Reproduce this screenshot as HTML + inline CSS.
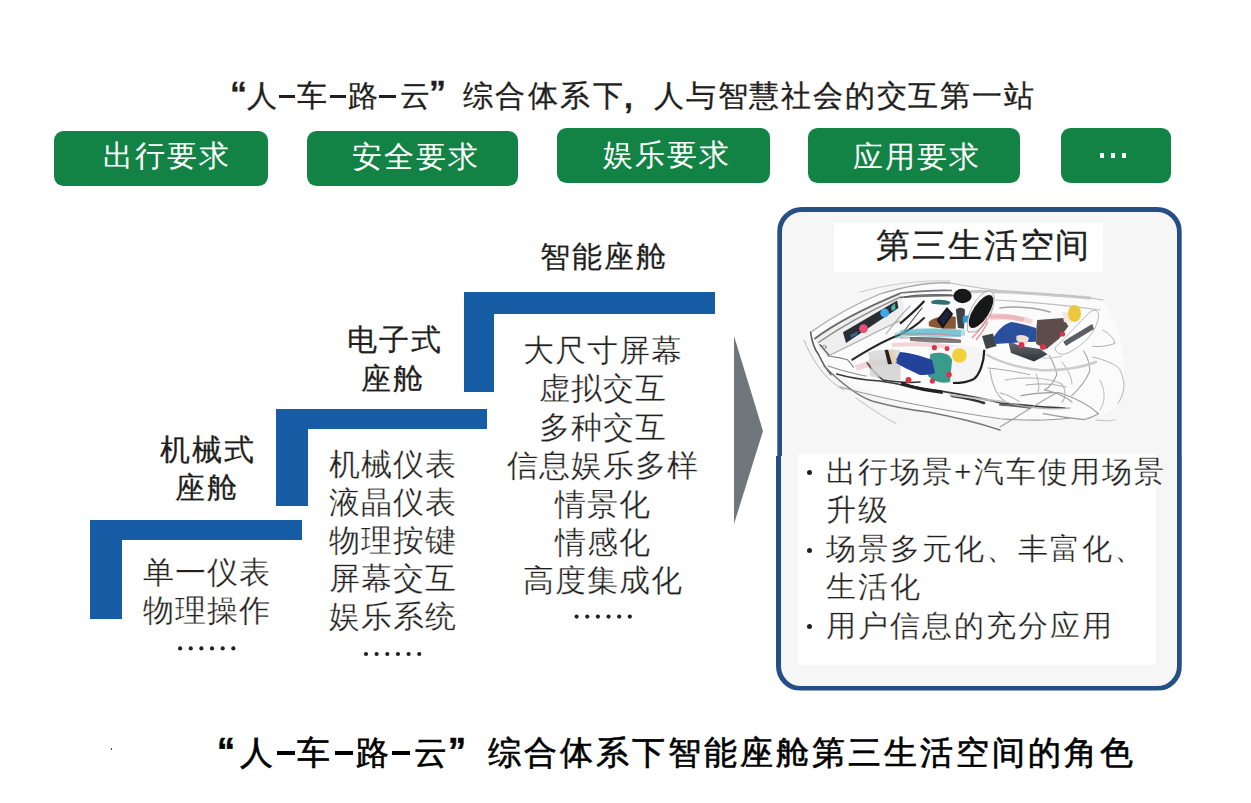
<!DOCTYPE html>
<html><head><meta charset="utf-8">
<style>
html,body{margin:0;padding:0;background:#fff;}
body{width:1251px;height:803px;position:relative;overflow:hidden;font-family:"Liberation Sans",sans-serif;color:#231f20;}
.a{position:absolute;white-space:nowrap;}
.t{position:absolute;white-space:nowrap;font-family:"Liberation Sans",sans-serif;}
.q{position:absolute;white-space:nowrap;font-family:"Liberation Sans",sans-serif;font-weight:bold;}
.bar{position:absolute;}
.btn{position:absolute;background:#138345;border-radius:9.5px;}
.bt{position:absolute;color:#fff;font-size:30px;line-height:30px;letter-spacing:2px;white-space:nowrap;}
.blue{position:absolute;background:#165da6;}
.hd{position:absolute;font-size:30px;line-height:36px;letter-spacing:2px;white-space:nowrap;-webkit-text-stroke:0.25px #231f20;}
.ls{position:absolute;font-size:31px;line-height:38px;letter-spacing:1px;white-space:nowrap;text-align:center;-webkit-text-stroke:0.3px #fff;}
</style></head><body>

<!-- title -->
<div id="title" style="position:absolute;left:0;top:0;width:1251px;height:120px;color:#231f20;-webkit-text-stroke:0.3px #231f20;">
<div class="q" style="left:230px;top:76px;font-size:34px;line-height:34px;">“</div>
<div class="t" style="left:247px;top:81px;font-size:30px;line-height:30px;">人</div>
<div class="bar" style="left:279px;top:95px;width:16px;height:3px;background:#231f20;"></div>
<div class="t" style="left:297px;top:81px;font-size:30px;line-height:30px;">车</div>
<div class="bar" style="left:330px;top:95px;width:16px;height:3px;background:#231f20;"></div>
<div class="t" style="left:348px;top:81px;font-size:30px;line-height:30px;">路</div>
<div class="bar" style="left:379px;top:95px;width:17px;height:3px;background:#231f20;"></div>
<div class="t" style="left:400px;top:81px;font-size:30px;line-height:30px;">云</div>
<div class="q" style="left:429px;top:75px;font-size:34px;line-height:34px;">”</div>
<div class="t" style="left:463px;top:81px;font-size:30px;line-height:30px;letter-spacing:2.4px;">综合体系下</div>
<div class="q" style="left:624px;top:82px;font-size:32px;line-height:30px;">,</div>
<div class="t" style="left:654px;top:81px;font-size:30px;line-height:30px;letter-spacing:1.8px;">人与智慧社会的交互第一站</div>
</div>

<!-- buttons -->
<div class="btn" style="left:54px;top:130.5px;width:213.5px;height:55px;"></div>
<div class="bt" style="left:103px;top:141px;">出行要求</div>
<div class="btn" style="left:306.5px;top:130.5px;width:211.5px;height:55px;"></div>
<div class="bt" style="left:352px;top:141.5px;">安全要求</div>
<div class="btn" style="left:556.6px;top:128.4px;width:213.8px;height:55px;"></div>
<div class="bt" style="left:603px;top:140px;">娱乐要求</div>
<div class="btn" style="left:808px;top:128.4px;width:212.4px;height:55px;"></div>
<div class="bt" style="left:853px;top:141.5px;">应用要求</div>
<div class="btn" style="left:1060.5px;top:128.3px;width:110.3px;height:55px;"></div>
<div class="bar" style="left:1100px;top:153.2px;width:4.4px;height:4.4px;background:#fff;"></div>
<div class="bar" style="left:1111px;top:153.2px;width:4.4px;height:4.4px;background:#fff;"></div>
<div class="bar" style="left:1122px;top:153.2px;width:4.4px;height:4.4px;background:#fff;"></div>

<!-- staircase -->
<div class="blue" style="left:89.7px;top:519.7px;width:212.8px;height:20px;"></div>
<div class="blue" style="left:89.7px;top:519.7px;width:32.1px;height:99.6px;"></div>
<div class="blue" style="left:276.3px;top:409px;width:211.1px;height:19.6px;"></div>
<div class="blue" style="left:276px;top:409px;width:32px;height:97px;"></div>
<div class="blue" style="left:464.3px;top:292.2px;width:250.6px;height:21.4px;"></div>
<div class="blue" style="left:464.3px;top:292.2px;width:30.1px;height:99.9px;"></div>

<div class="hd" style="left:160px;top:431.5px;">机械式</div>
<div class="hd" style="left:175px;top:469.7px;">座舱</div>
<div class="hd" style="left:347px;top:322px;">电子式</div>
<div class="hd" style="left:361px;top:361px;">座舱</div>
<div class="hd" style="left:540px;top:239px;">智能座舱</div>

<div class="ls" style="left:127px;top:553.5px;width:160px;">单一仪表<br>物理操作</div>
<div class="ls" style="left:313px;top:445.7px;width:160px;">机械仪表<br>液晶仪表<br>物理按键<br>屏幕交互<br>娱乐系统</div>
<div class="ls" style="left:503px;top:332px;width:200px;line-height:38.4px;">大尺寸屏幕<br>虚拟交互<br>多种交互<br>信息娱乐多样<br>情景化<br>情感化<br>高度集成化</div>

<svg class="a" style="left:0;top:0;" width="1251" height="803">
<circle cx="180.10" cy="648.4" r="2.1" fill="#231f20"/><circle cx="190.75" cy="648.4" r="2.1" fill="#231f20"/><circle cx="201.40" cy="648.4" r="2.1" fill="#231f20"/><circle cx="212.05" cy="648.4" r="2.1" fill="#231f20"/><circle cx="222.70" cy="648.4" r="2.1" fill="#231f20"/><circle cx="233.35" cy="648.4" r="2.1" fill="#231f20"/>
<circle cx="366.00" cy="654" r="2.1" fill="#231f20"/><circle cx="376.65" cy="654" r="2.1" fill="#231f20"/><circle cx="387.30" cy="654" r="2.1" fill="#231f20"/><circle cx="397.95" cy="654" r="2.1" fill="#231f20"/><circle cx="408.60" cy="654" r="2.1" fill="#231f20"/><circle cx="419.25" cy="654" r="2.1" fill="#231f20"/>
<circle cx="576.60" cy="616.6" r="2.1" fill="#231f20"/><circle cx="587.25" cy="616.6" r="2.1" fill="#231f20"/><circle cx="597.90" cy="616.6" r="2.1" fill="#231f20"/><circle cx="608.55" cy="616.6" r="2.1" fill="#231f20"/><circle cx="619.20" cy="616.6" r="2.1" fill="#231f20"/><circle cx="629.85" cy="616.6" r="2.1" fill="#231f20"/>
</svg>
<!-- arrow -->
<svg class="a" style="left:0;top:0;" width="1251" height="803">
<polygon points="734,336 763,431 734,524" fill="#6f767c"/>
</svg>

<!-- panel -->
<div class="a" style="left:777.3px;top:206.5px;width:394.4px;height:474px;border:5.2px solid #264f87;border-radius:25px;background:#f6f6f6;clip-path:inset(0 0 234.6px 0);"></div>
<div class="a" style="left:775.6px;top:206.5px;width:396.2px;height:474px;border:5.2px solid #264f87;border-radius:25px;background:#f6f6f6;clip-path:inset(249.5px 0 0 0);"></div>
<div class="a" style="left:834px;top:223px;width:269px;height:49px;background:#fff;"></div>
<div class="t" style="left:876px;top:227px;font-size:34px;line-height:36px;letter-spacing:1.9px;-webkit-text-stroke:0.3px #231f20;">第三生活空间</div>

<div class="a" style="left:798px;top:454px;width:358px;height:211px;background:#fff;"></div>
<div class="a" style="left:807px;top:470px;width:5px;height:5px;border-radius:50%;background:#231f20;"></div>
<div class="a" style="left:807px;top:548px;width:5px;height:5px;border-radius:50%;background:#231f20;"></div>
<div class="a" style="left:807px;top:624px;width:5px;height:5px;border-radius:50%;background:#231f20;"></div>
<div class="t" style="left:826px;top:453px;font-size:30px;line-height:38.4px;letter-spacing:2px;-webkit-text-stroke:0.3px #fff;">出行场景+汽车使用场景<br>升级<br>场景多元化、丰富化、<br>生活化<br>用户信息的充分应用</div>

<!-- car -->
<svg class="a" style="left:800px;top:270px;" width="360" height="180" viewBox="0 0 360 180">
<defs>
<linearGradient id="sg" x1="0" y1="0" x2="0" y2="1"><stop offset="0" stop-color="#6a6f74"/><stop offset="1" stop-color="#2e3236"/></linearGradient>
</defs>
<!-- body fill -->
<path d="M11,62 C30,46 60,32 80,24 C110,15 135,12 150,13 C180,18 210,22 245,25 C275,27 292,29 303,31 C318,50 325,80 324,110 C322,130 318,140 300,146 C270,148 245,152 229,150 C200,152 160,150 128,142 C90,132 50,116 24,96 C15,85 11,72 11,62 Z" fill="#fbfbfb"/>
<g fill="none" stroke-linecap="round" stroke-linejoin="round">
<!-- top outline -->
<path d="M10.6,62.3 C35,45 60,32 80,24 C110,15 135,12 150,13" stroke="#a8a8a8" stroke-width="1.3"/>
<path d="M150,13 C175,18 205,22 245,24 C275,26 292,28 303,30" stroke="#bdbdbd" stroke-width="1.2"/>
<path d="M60,22 C90,14 120,10 150,11" stroke="#c8c8c8" stroke-width="1"/>
<!-- nose -->
<path d="M10.6,62.3 C12,72 15,80 18.7,84.7 C23,94 27,100 31,104.6" stroke="#555" stroke-width="1.5"/>
<path d="M4,70 C10,85 18,98 28,108 C34,114 40,118 44,120" stroke="#b5b5b5" stroke-width="1"/>
<!-- body lines -->
<path d="M24,96 C40,112 55,125 72,131 C90,136 110,140 128,142 C160,148 185,155 200,160" stroke="#777" stroke-width="1.4"/>
<path d="M36.8,104 C50,108 65,110 80,111 C105,115 125,119 144,121.6 C165,125 185,129 200,132.8 C230,136 250,138 265,138" stroke="#3a3a3a" stroke-width="1.7"/>
<path d="M152,126 C165,128 175,130 184,133" stroke="#333" stroke-width="2.6"/>
<path d="M40,117 C80,128 140,140 200,148.7 C230,151 255,150 270,148" stroke="#9a9a9a" stroke-width="1.1"/>
<path d="M56,128 C70,138 85,148 96,153.5" stroke="#c0c0c0" stroke-width="1"/>
<path d="M200,157 C220,145 240,132 256.8,122.8" stroke="#a5a5a5" stroke-width="1.1"/>
<path d="M200,134.7 C210,135 220,136.5 229.9,137.7" stroke="#666" stroke-width="2"/>
<path d="M200,122.8 C208,125 214,128 219.4,131.7" stroke="#aaa" stroke-width="1"/>
<!-- dashboard shell -->
<path d="M15,68.5 C40,50 70,36 99.6,23.7 L103,30 C105,40 103,48 99.6,51 C75,62 50,78 27.4,86 C22,82 18,76 15,68.5 Z" fill="#eeeeee" stroke="none"/>
<path d="M15,68.5 C40,50 70,36 99.6,23.7" stroke="#6a6a6a" stroke-width="1.8"/>
<path d="M18.7,72.3 C45,54 72,40 99.6,27.4" stroke="#8a8a8a" stroke-width="1.4"/>
<path d="M27.4,86 C50,76 75,62 99.6,51" stroke="#aaa" stroke-width="1.1"/>
<path d="M52.3,89.7 C65,82 80,72 99.6,64.8 C110,60 118,54 124,48" stroke="#262626" stroke-width="2"/>
<path d="M20,74.8 C23,78 26,82 28.6,84.7" stroke="#555" stroke-width="1.3"/>
<circle cx="24.3" cy="77.2" r="1.8" stroke="#777" stroke-width="0.9"/>
<path d="M28.6,86 C35,87 42,88 47.3,89.7 C50,92 52,95 53.5,97.2" stroke="#777" stroke-width="1.1"/>
<path d="M105,27 C115,25 130,24 150,25 C156,26 160,28 162,30" stroke="#666" stroke-width="1.3"/>
<path d="M122,38 C114,48 108,56 102,64" stroke="#555" stroke-width="1.2"/>
<!-- floor -->
<path d="M68.7,89.6 C80,88 92,89 100.7,90 L100.7,110.4 C88,110 76,108 70,106 Z" fill="#dedede" stroke="none"/>
<path d="M67,92.8 C72,100 78,106 83,110 C95,112 110,113 120,112" stroke="#333" stroke-width="1.5"/>
<path d="M102.3,113 C115,118 130,121 140.7,121" stroke="#2a2a2a" stroke-width="2.2"/>
<!-- rear seat frame sketch -->
<path d="M249.3,85.4 C253,92 256,99 256.8,104.8 C254,112 250,117 244.8,119.8" stroke="#a0a0a0" stroke-width="1.1"/>
<path d="M283.7,81 C288,88 290,95 289.6,101.8 C285,112 278,120 271.7,125.7" stroke="#a5a5a5" stroke-width="1.1"/>
<path d="M303,60 C310,64 314,69 315,73.4 C308,76 300,77 292.6,76.4" stroke="#b0b0b0" stroke-width="1"/>
<path d="M292.6,87 C305,90 315,94 319.5,98.8 C323,106 324,112 324,116.8 C323,124 321,129 318,133.2" stroke="#b5b5b5" stroke-width="1"/>
<path d="M221,125.7 C235,123 248,122 259.8,122.8 C275,128 290,136 298.6,143.7 C292,147 288,149 283.7,149.6 C268,148 255,146 243.3,143.7" stroke="#9c9c9c" stroke-width="1.2"/>
<path d="M188,98 C196,99 210,100 229.9,104.8" stroke="#aaa" stroke-width="1"/>
<path d="M262,92 C268,100 272,108 272,114" stroke="#b5b5b5" stroke-width="1"/>
<path d="M236,104 C238,110 240,116 238,122" stroke="#b0b0b0" stroke-width="1"/>
<path d="M226,115 C240,113 255,114 266,117" stroke="#aaa" stroke-width="1"/>
<path d="M296,150 C305,151 310,151 315,150" stroke="#c0c0c0" stroke-width="1"/>
</g>
<!-- extra sketch -->
<g fill="none" stroke-linecap="round" opacity="0.9">
<path d="M160,22 C200,20 240,24 290,28" stroke="#c4c4c4" stroke-width="3"/>
<path d="M196,30 C230,32 260,34 300,40" stroke="#b8b8b8" stroke-width="1.2"/>
<path d="M200,38 C215,36 235,38 250,42" stroke="#9a9a9a" stroke-width="1.5"/>
<path d="M187,85 C200,92 220,98 240,100 C260,101 280,98 296,92" stroke="#c8c8c8" stroke-width="2.5"/>
<path d="M190,100 C192,115 196,126 206,132 C225,138 250,140 270,138" stroke="#b0b0b0" stroke-width="1.3"/>
<path d="M205,110 C225,106 250,108 262,114 C266,120 266,128 262,132" stroke="#b5b5b5" stroke-width="1.2"/>
<path d="M244.8,119.8 C255,122 265,126 272,132" stroke="#a0a0a0" stroke-width="1.2"/>
<path d="M300,110 C305,120 306,130 300,140" stroke="#c0c0c0" stroke-width="1.1"/>
<path d="M150,125 C170,128 190,130 205,132" stroke="#c0c0c0" stroke-width="2"/>
<path d="M28,96 C40,100 55,104 66,106" stroke="#888" stroke-width="1.2"/>
<path d="M110,36 C100,46 92,56 86,64" stroke="#aaa" stroke-width="1.2"/>
</g>
<!-- white seat shell rear -->
<path d="M255,78 C265,68 280,52 290,42 C296,38 300,42 298,50 C295,62 285,74 270,82 C262,86 256,84 255,78 Z" fill="#ffffff" stroke="#b0b0b0" stroke-width="0.9"/>
<path d="M220,82 C235,88 250,90 262,86" stroke="#c0c0c0" stroke-width="1" fill="none"/>
<!-- dashboard screen -->
<path d="M43,62.3 L97.1,30.5 L98.4,38 L46,72.9 Z" fill="#2a2d34"/>
<path d="M50,65 L58,61 L57,65 L51,68 Z" fill="#3a6ea8" opacity="0.8"/>
<circle cx="63.5" cy="58.6" r="4.4" fill="#e8507a"/>
<circle cx="84.7" cy="43" r="4.4" fill="#3fa8e8"/>
<path d="M91,37 L95,33 L95.5,39 L92,41 Z" fill="#46b8a8"/>
<!-- streaks -->
<path d="M56,98 C72,92 90,90 112,94" stroke="#e07080" stroke-width="6" opacity="0.28" fill="none"/>
<path d="M95,66 C112,62 135,60 165,63" stroke="#40b8c8" stroke-width="6" opacity="0.4" fill="none"/>
<path d="M92,75 C115,73 140,75 160,78" stroke="#e07080" stroke-width="4" opacity="0.28" fill="none"/>
<path d="M190,48 C205,46 220,47 232,52" stroke="#e07080" stroke-width="5" opacity="0.28" fill="none"/>
<!-- driver -->
<path d="M100,23 C120,21 140,20 152,20.5 M100,27.4 C120,26 140,25.5 152,25.7" stroke="#555" stroke-width="1.6" fill="none" opacity="0.8"/>
<path d="M124.4,31 C116,40 108,47 100,53.6" stroke="#222" stroke-width="2.2" fill="none"/>
<path d="M131.4,31 C137,29 145,29.5 150.6,32 L149,34.4 C143,35 136,34.5 131.4,33.5 Z" fill="#2e6f72"/>
<path d="M100,60 C115,58 135,58 161,60 L161,67 C135,68 115,66 100,65 Z" fill="#49b3c4" opacity="0.55"/>
<path d="M100,64 C120,63 140,64 161,66 M100,68 C120,67 140,68 161,70" stroke="#e07080" stroke-width="1.5" fill="none" opacity="0.55"/>
<path d="M110,67 C130,67 150,68 161,70 L161,73 C140,73 120,72 110,71 Z" fill="#4a4a4a" opacity="0.7"/>
<path d="M128.8,52 C135,46 148,45 155.8,47 L155.8,58.8 C145,59 135,58 128.8,56 Z" fill="#8a5636"/>
<path d="M136.6,50.1 L147,37 L153.2,44 L142.7,58.8 Z" fill="#141518"/>
<path d="M139,50 L147,40 L150.5,44 L143,55 Z" fill="#24305a" opacity="0.6"/>
<path d="M155.8,39.6 C159,37 163,37 165,40 L164,58.8 L158,58 Z" fill="#3f4349"/>
<path d="M162.8,46.6 L169.7,45 L169.7,51.8 L162.8,53 Z" fill="#2a9ad8"/>
<ellipse cx="162.5" cy="26" rx="9.2" ry="7.2" fill="#17181b"/>
<!-- front seat -->
<path d="M168,62 C165,50 172,30 185,22 C192,19 195,24 194,32 C192,46 184,58 175,62 Z" fill="#f4f4f4" stroke="#9a9a9a" stroke-width="0.8"/>
<ellipse cx="181" cy="41.5" rx="19" ry="7.8" transform="rotate(-57 181 41.5)" fill="#17181a"/>
<path d="M172,68 C178,62 183,56 187,48 M176,70 C181,64 185,58 188,52" stroke="#d83848" stroke-width="1.2" fill="none" opacity="0.6"/>
<!-- child passenger seat -->
<path d="M68,82 C80,79 92,79 100,80 L100,110 C90,110 80,108 72,104 Z" fill="#d6d6d6" opacity="0.8"/>
<path d="M150,76 C165,74 180,76 185,82 C186,94 180,106 168,111 L145,113 Z" fill="#f5f5f5"/>
<path d="M184.3,79.8 C184,92 180,104 174,108.9 C168,112 160,113 153,113" fill="none" stroke="#1e1e1e" stroke-width="2.2"/>
<path d="M101,114 C115,118 130,121 142.8,122.4" fill="none" stroke="#222" stroke-width="3"/>
<path d="M130.3,84 C140,81 150,83 152.1,90 L150,112 C142,114 134,112 128,106 Z" fill="#3a9a8c"/>
<path d="M100,82 C112,83 125,87 132,90 L135,103 C130,105 124,105 120,105 C110,100 100,96 95,92 Z" fill="#22429c"/>
<path d="M84.6,80 L93,79.8 L97,92 L88,94.3 Z" fill="#e8d0b8"/>
<path d="M84.6,80 L88,79.8 L92,94 L88,94.3 Z" fill="#222"/>
<circle cx="159.4" cy="85.5" r="7.3" fill="#f2d23c"/>
<circle cx="134.4" cy="77.7" r="2.6" fill="#d8344a"/>
<circle cx="147" cy="78.7" r="2.4" fill="#d8344a"/>
<circle cx="149" cy="104.7" r="2.8" fill="#d8344a"/>
<circle cx="132.4" cy="111" r="2.6" fill="#d8344a"/>
<circle cx="108.5" cy="110" r="3" fill="#d8344a"/>
<!-- rear passenger -->
<path d="M188,46 C200,45 212,47 223.7,50" stroke="#e07080" stroke-width="5" opacity="0.3" fill="none"/>
<path d="M208,70.7 L220,76 L240,79 L247.6,84.3 L234,91.5 L211,83 Z" fill="url(#sg)"/>
<path d="M182,66 L193,63.5 L196.6,76 L186,79 Z" fill="#40454a"/>
<path d="M193.5,67.6 C198,60 204,54 211.2,52 C220,53 230,56 236,58 L236,71.8 C222,72 208,73 195.6,73.9 Z" fill="#2a4f9d"/>
<path d="M237.2,50 L263.2,47.9 L268.4,56.2 L259,68.7 L246.5,79 L236.1,73.9 L236.1,61.4 Z" fill="#5d4c4a"/>
<path d="M263.2,71.8 C272,66 282,60 292.3,54.1 L294,59 C284,65 274,71 266,76 Z" fill="#5a6066"/>
<path d="M262,41.6 L271.5,44 L271.5,53 L264,52 Z" fill="#f3e6dc"/>
<ellipse cx="274.5" cy="43.5" rx="6.5" ry="8.5" fill="#ecc83e"/>
<path d="M216.4,66 C220,64 226,65 229,68 L227,73.9 C222,74 218,72 216.4,70 Z" fill="#f3dcd0"/>
<circle cx="221.5" cy="75" r="3" fill="#d8344a"/>
<circle cx="242.8" cy="77" r="3" fill="#d8344a"/>
<circle cx="262.5" cy="64" r="2.6" fill="#d8344a"/>
</svg>

<div class="a" style="left:110.7px;top:748.4px;width:1.6px;height:1.8px;background:#222;border-radius:50%;"></div>
<!-- caption -->
<div id="cap" style="position:absolute;left:0;top:0;width:1251px;height:803px;color:#000;-webkit-text-stroke:0.6px #000;">
<div class="q" style="left:217px;top:734px;font-size:36px;line-height:36px;color:#000;">“</div>
<div class="t" style="left:240px;top:736px;font-size:33px;line-height:33px;">人</div>
<div class="bar" style="left:277px;top:751px;width:18px;height:4px;background:#000;"></div>
<div class="t" style="left:297px;top:736px;font-size:33px;line-height:33px;">车</div>
<div class="bar" style="left:335px;top:751px;width:18px;height:4px;background:#000;"></div>
<div class="t" style="left:356px;top:736px;font-size:33px;line-height:33px;">路</div>
<div class="bar" style="left:392px;top:751px;width:18px;height:4px;background:#000;"></div>
<div class="t" style="left:414px;top:736px;font-size:33px;line-height:33px;">云</div>
<div class="q" style="left:448px;top:734px;font-size:36px;line-height:36px;color:#000;">”</div>
<div class="t" style="left:488px;top:736px;font-size:33px;line-height:33px;letter-spacing:3px;">综合体系下智能座舱第三生活空间的角色</div>
</div>

</body></html>
